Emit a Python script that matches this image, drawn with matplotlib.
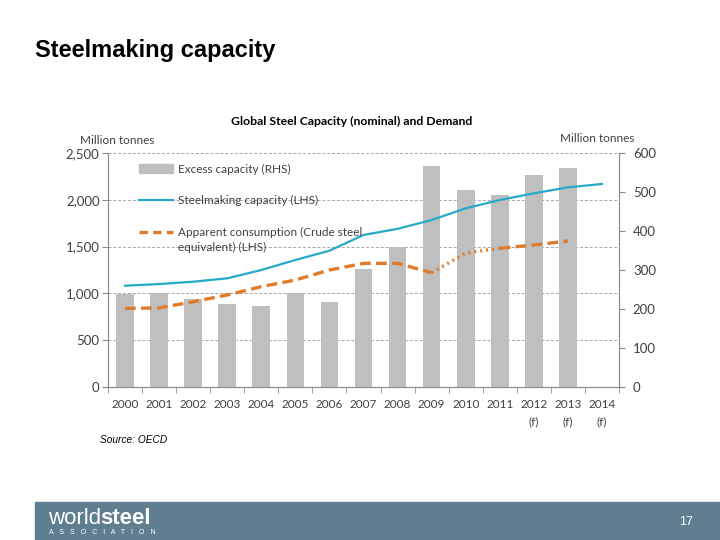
#!/usr/bin/env python
"""
Steelmaking capacity slide: global steel capacity (nominal) and demand.
"""

import numpy as np
import matplotlib
matplotlib.use("Agg")
import matplotlib.pyplot as plt
from matplotlib.lines import Line2D
from matplotlib.patches import Patch, Rectangle

# Data
years = ["2000", "2001", "2002", "2003", "2004", "2005", "2006", "2007",
         "2008", "2009", "2010", "2011", "2012", "2013", "2014"]
year_labels = ["2000", "2001", "2002", "2003", "2004", "2005", "2006", "2007",
               "2008", "2009", "2010", "2011", "2012\n(f)", "2013\n(f)",
               "2014\n(f)"]
excess_capacity = [238, 242, 225, 214, 207, 242, 217, 302,
                   360, 567, 505, 492, 543, 561, np.nan]
steel_capacity = [1082, 1100, 1125, 1161, 1250, 1357, 1456, 1624,
                  1690, 1784, 1909, 1998, 2069, 2133, 2169]
consumption = [840, 845, 911, 983, 1072, 1143, 1250, 1321,
               1321, 1221, 1431, 1482, 1517, 1560]

BAR_COLOR = "#bfbfbf"
CAP_COLOR = "#27a9c9"
CONS_COLOR = "#e07b2a"
AXIS_COLOR = "#8c8c8c"
TEXT_COLOR = "#404040"
FOOTER_COLOR = "#5f7f91"
CHART_FONT = ["Lato", "DejaVu Sans"]

fig = plt.figure(figsize=(7.2, 5.4), dpi=100)

# Slide title and footer
fig.text(35 / 720, 1 - 50 / 540, "Steelmaking capacity", fontsize=17,
         fontweight="bold", family="Liberation Sans", va="center")
fig.text(100 / 720, 1 - 440 / 540, "Source: OECD", fontsize=7.3,
         style="italic", family="Liberation Sans", va="center")
fig.patches.append(Rectangle((35 / 720, 0), 1 - 35 / 720, 38 / 540,
                             transform=fig.transFigure, color=FOOTER_COLOR,
                             zorder=0))
fig.text(48 / 720, 1 - 518 / 540, "world", fontsize=16, color="white",
         family="Liberation Sans", va="center")
fig.text(100 / 720, 1 - 518 / 540, "steel", fontsize=16, color="white",
         fontweight="bold", family="Liberation Sans", va="center")
fig.text(49 / 720, 1 - 533 / 540, "A   S   S   O   C   I   A   T   I   O   N",
         fontsize=5, color="white", family="Liberation Sans", va="center")
fig.text(686 / 720, 1 - 522 / 540, "17", fontsize=9, color="white",
         family="Liberation Sans", va="center", ha="center")

# Chart
ax = fig.add_axes([108 / 720, 153 / 540, 511 / 720, 234 / 540])
ax2 = ax.twinx()
x = np.arange(len(years))

ax2.bar(x, excess_capacity, width=0.52, color=BAR_COLOR, zorder=2)
ax2.set_ylim(0, 600)
ax2.set_yticks([0, 100, 200, 300, 400, 500, 600])

# Lines drawn on the right axes so they sit above the bars, scaled to LHS
scale = 600 / 2500
ax2.plot(x, np.array(steel_capacity) * scale, color=CAP_COLOR, lw=1.6,
         zorder=3)
cons = np.array(consumption) * scale
ax2.plot(x[:10], cons[:10], color=CONS_COLOR, lw=2.4, ls=(0, (3.2, 1.6)),
         zorder=3)
ax2.plot(x[9:12], cons[9:12], color=CONS_COLOR, lw=2.4, ls=(0, (0.6, 1.2)),
         zorder=3)
ax2.plot(x[11:14], cons[11:14], color=CONS_COLOR, lw=2.4, ls=(0, (3.2, 1.6)),
         zorder=3)

ax.set_ylim(0, 2500)
ax.set_yticks([0, 500, 1000, 1500, 2000, 2500])
ax.set_yticklabels(["0", "500", "1,000", "1,500", "2,000", "2,500"])
ax.yaxis.grid(True, color="#a6a6a6", ls=(0, (3, 2)), lw=0.7)
ax.set_axisbelow(True)
ax.set_xlim(-0.5, len(years) - 0.5)

# Category labels in the middle, tick marks on the boundaries
ax.set_xticks(x)
ax.set_xticklabels(year_labels, linespacing=1.6, va="top")
ax.tick_params(axis="x", length=0, pad=9)
ax.set_xticks(np.arange(-0.5, len(years)), minor=True)
ax.tick_params(axis="x", which="minor", length=4, direction="out",
               color=AXIS_COLOR)

for a in (ax, ax2):
    a.spines["top"].set_visible(False)
    for side in ("left", "right", "bottom"):
        a.spines[side].set_color(AXIS_COLOR)
    for lbl in a.get_xticklabels():
        lbl.set_family(CHART_FONT)
        lbl.set_fontsize(8.5)
        lbl.set_color(TEXT_COLOR)
    for lbl in a.get_yticklabels():
        lbl.set_family(CHART_FONT)
        lbl.set_fontsize(9.5)
        lbl.set_color(TEXT_COLOR)
ax.tick_params(axis="y", length=4, color=AXIS_COLOR, pad=2)
ax2.tick_params(axis="y", length=4, color=AXIS_COLOR, pad=6)

fig.text(352 / 720, 1 - 121 / 540,
         "Global Steel Capacity (nominal) and Demand", fontsize=8.8,
         fontweight="bold", family=CHART_FONT, ha="center", va="center")
fig.text(80 / 720, 1 - 140 / 540, "Million tonnes", fontsize=8.5,
         family=CHART_FONT, color=TEXT_COLOR, va="center")
fig.text(560 / 720, 1 - 138 / 540, "Million tonnes", fontsize=8.5,
         family=CHART_FONT, color=TEXT_COLOR, va="center")

handles = [Patch(color=BAR_COLOR),
           Line2D([], [], color=CAP_COLOR, lw=1.6),
           Line2D([], [], color=CONS_COLOR, lw=2.4, ls=(0, (2.5, 1.6)))]
labels = ["Excess capacity (RHS)", "Steelmaking capacity (LHS)",
          "Apparent consumption (Crude steel\nequivalent) (LHS)"]
leg = ax2.legend(handles, labels, loc="upper left",
                 bbox_to_anchor=(0.04, 1.0), frameon=False,
                 handlelength=2.9, handleheight=0.9, handletextpad=0.4,
                 labelspacing=1.75, prop={"family": CHART_FONT, "size": 8.5})
for t in leg.get_texts():
    t.set_color(TEXT_COLOR)
    t.set_linespacing(1.4)
# Put the dashed handle level with the first line of its two-line label
cons_handle = leg.legend_handles[2]
cons_handle.set_ydata(np.asarray(cons_handle.get_ydata()) + 5.4)

plt.savefig("out.png", dpi=100)
